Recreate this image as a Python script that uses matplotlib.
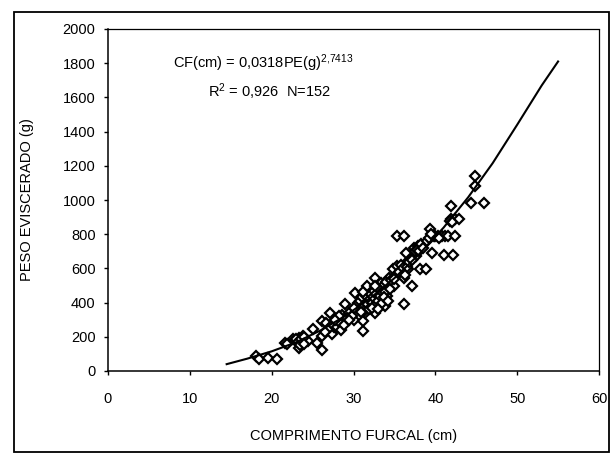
import numpy as np
import matplotlib
matplotlib.use("Agg")
import matplotlib.pyplot as plt
from matplotlib.patches import Rectangle

plt.rcParams["font.family"] = ["Liberation Sans", "DejaVu Sans"]
plt.rcParams["mathtext.fontset"] = "custom"
plt.rcParams["mathtext.rm"] = "Liberation Sans"
plt.rcParams["mathtext.default"] = "regular"

cf = [18.1, 18.5, 19.6, 20.7, 21.6, 22.6, 23.3, 23.3, 23.8, 24.5,
      25.0, 25.5, 26.1, 26.1, 26.2, 26.7, 27.1, 27.4, 27.6, 28.1,
      28.3, 28.6, 29.0, 28.8, 29.5, 30.0, 30.2, 30.7, 31.2, 31.2,
      31.4, 31.4, 31.7, 31.9, 32.2, 32.6, 32.6, 32.9, 33.1, 33.3,
      33.8, 34.1, 34.3, 34.3, 34.8, 35.0, 35.3, 35.3, 36.2, 36.2,
      36.2, 36.4, 36.4, 36.7, 37.0, 37.2, 37.4, 37.6, 37.9, 38.1,
      38.8, 39.3, 39.6, 39.8, 40.3, 40.8, 41.2, 41.5, 41.0, 41.9,
      42.2, 41.9, 42.4, 42.9, 42.4, 44.3, 44.8, 44.8, 45.9,
      22.8, 23.0, 23.2, 23.5, 23.6, 24.0, 23.9,
      27.0, 27.5, 28.0, 28.4, 28.5, 28.9, 29.2, 29.8, 28.2,
      30.4, 30.6, 30.8, 31.0, 31.2, 31.5, 31.6, 31.8, 32.0, 32.1,
      32.3, 32.4, 32.5, 32.7, 32.8, 33.0, 33.2, 33.4, 33.5, 33.6,
      33.9, 34.0, 31.3, 31.9, 32.2, 30.9, 31.6, 32.9, 33.7, 34.5,
      34.6, 35.2, 35.6, 35.8, 36.0, 36.5, 36.8, 37.2, 37.5, 37.7,
      38.0, 38.3, 39.0, 39.2, 40.0, 40.5, 41.8, 42.0,
      26.5, 27.8, 29.5, 30.0, 31.1, 32.6, 33.0, 34.2, 35.0, 36.3,
      38.5, 39.5, 21.9]
pe = [90, 68, 78, 68, 165, 185, 195, 135, 205, 175,
      243, 165, 125, 205, 290, 282, 340, 215, 255, 300,
      253, 330, 390, 300, 340, 300, 458, 360, 234, 292,
      340, 420, 458, 400, 477, 545, 340, 420, 458, 516,
      380, 438, 487, 545, 594, 497, 613, 789, 789, 390,
      545, 633, 691, 594, 652, 497, 720, 672, 730, 594,
      594, 828, 691, 789, 789, 789, 789, 789, 681, 964,
      681, 886, 886, 886, 789, 983, 1139, 1081, 983,
      180, 190, 170, 150, 185, 200, 160,
      250, 270, 260, 280, 240, 270, 310, 320, 320,
      380, 400, 410, 430, 380, 440, 390, 470, 420, 450,
      400, 430, 470, 390, 450, 410, 440, 470, 400, 500,
      460, 520, 350, 360, 370, 345, 495, 490, 430, 480,
      530, 560, 580, 620, 600, 610, 640, 650, 700, 710,
      700, 740, 760, 780, 790, 780, 880, 870,
      230, 300, 300, 370, 460, 500, 360, 410, 540, 560,
      720, 800, 160]

# Fitted curve as traced on the figure
curve_x = [14.5, 17, 20, 23, 26, 29, 32, 35, 38, 41, 44, 47, 50, 53, 55]
curve_y = [40, 72, 115, 168, 238, 322, 424, 543, 682, 838, 1015, 1215, 1440, 1670, 1810]

fig = plt.figure(figsize=(6.12, 4.54), dpi=100)
ax = fig.add_axes([108/612, 1-371/454, 491/612, 342/454])

ax.plot(cf, pe, linestyle="none", marker="D", markersize=4.8,
        markerfacecolor="white", markeredgecolor="black", markeredgewidth=1.6)
ax.plot(curve_x, curve_y, color="black", lw=1.5)

ax.set_xlim(0, 60)
ax.set_ylim(0, 2000)
ax.set_xticks(np.arange(0, 61, 10))
ax.set_yticks(np.arange(0, 2001, 200))
ax.tick_params(axis="x", direction="out", length=3, width=1, pad=12, labelsize=10.5)
ax.tick_params(axis="y", direction="out", length=3, width=1, pad=6, labelsize=10.5)

for s in ["left", "bottom"]:
    ax.spines[s].set_linewidth(1.1)
for s in ["top", "right"]:
    ax.spines[s].set_linewidth(0.9)
    ax.spines[s].set_linestyle((0, (1, 1)))

ax.set_xlabel("COMPRIMENTO FURCAL (cm)", fontsize=10.5, va="center")
ax.set_ylabel("PESO EVISCERADO (g)", fontsize=10.5)
ax.xaxis.set_label_coords(0.5, -0.19)
ax.yaxis.set_label_coords(-0.15, 0.5)

ax.text(8.0, 1800, "CF(cm) = 0,0318PE(g)$^{2{,}7413}$", fontsize=10.5, va="center")
ax.text(12.2, 1636, "R$^2$ = 0,926  N=152", fontsize=10.5, va="center")

# outer frame around the whole chart
fig.patches.append(Rectangle((14/612, 2/454), 595/612, 440/454, transform=fig.transFigure,
                             fill=False, edgecolor="black", linewidth=1.3))

fig.savefig("out.png", dpi=100)
